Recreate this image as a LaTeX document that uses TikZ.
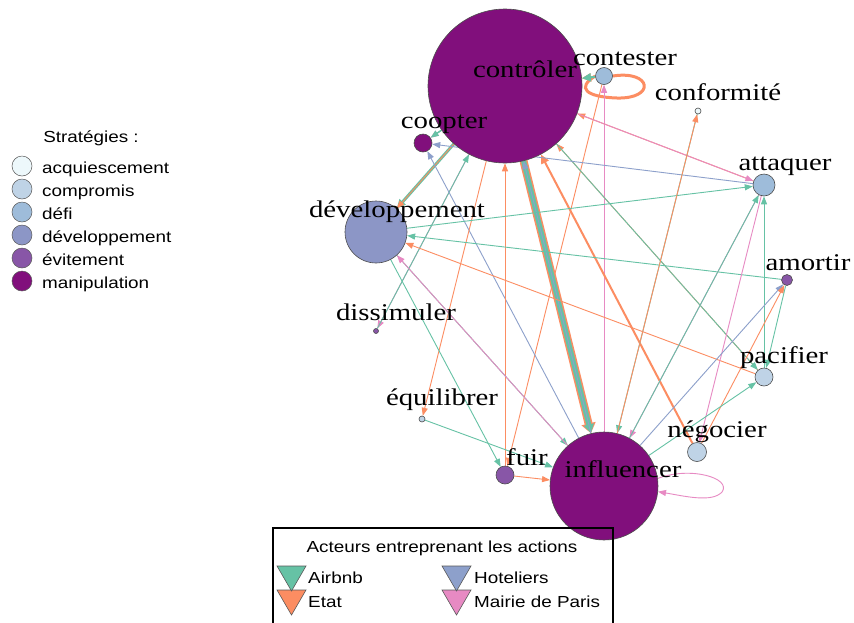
\documentclass[tikz,border=0pt]{standalone}
\usepackage{fontspec}
\usepackage{graphicx}
\setmainfont{Liberation Serif}
\newfontfamily\arialf{Liberation Sans}
\usetikzlibrary{arrows.meta}
\definecolor{airbnb}{HTML}{66C2A5}
\definecolor{etat}{HTML}{FC8D62}
\definecolor{hotel}{HTML}{8DA0CB}
\definecolor{mairie}{HTML}{E78AC3}
\definecolor{acq}{HTML}{EDF8FB}
\definecolor{comp}{HTML}{BFD3E6}
\definecolor{defi}{HTML}{9EBCDA}
\definecolor{devc}{HTML}{8C96C6}
\definecolor{evit}{HTML}{8856A7}
\definecolor{manip}{HTML}{810F7C}
\pgfdeclarelayer{bg}
\pgfsetlayers{bg,main}
\begin{document}
\begin{tikzpicture}[x=1pt,y=-1pt,
  vtx/.style={circle, draw=gray!60!black, line width=0.6pt, inner sep=0pt},
  lbl/.style={anchor=base, inner sep=0pt, font=\fontsize{24}{26}\selectfont},
  leg/.style={inner sep=0pt, font=\arialf\fontsize{16}{18}\selectfont},
  ar/.style={-{Triangle[length=8pt,width=6pt]}},
  ab/.style={draw=airbnb, line width=0.9pt, ar},
  et/.style={draw=etat, line width=0.9pt, ar},
  ho/.style={draw=hotel, line width=0.9pt, ar},
  ma/.style={draw=mairie, line width=0.9pt, ar},
  legcirc/.style={circle, draw=gray!70!black, line width=0.5pt, minimum size=20pt, inner sep=0pt},
  legtri/.style={draw=gray!70!black, line width=0.6pt}
]
\useasboundingbox (0,0) rectangle (854,622);

% vertices
\node[vtx, fill=manip, minimum size=154pt] (C) at (505,86) {};
\node[vtx, fill=defi, minimum size=17pt] (Ct) at (604,76) {};
\node[vtx, fill=acq, minimum size=6pt] (Cf) at (698,111) {};
\node[vtx, fill=manip, minimum size=18pt] (Co) at (423,143) {};
\node[vtx, fill=defi, minimum size=22pt] (A) at (764,185) {};
\node[vtx, fill=devc, minimum size=62pt] (D) at (376,232) {};
\node[vtx, fill=evit, minimum size=11pt] (Am) at (787,280) {};
\node[vtx, fill=evit, minimum size=5pt] (Di) at (376,331) {};
\node[vtx, fill=comp, minimum size=18pt] (P) at (764,377) {};
\node[vtx, fill=comp, minimum size=6pt] (E) at (422,419) {};
\node[vtx, fill=comp, minimum size=19pt] (N) at (697,452) {};
\node[vtx, fill=evit, minimum size=18pt] (F) at (505,475) {};
\node[vtx, fill=manip, minimum size=108pt] (I) at (604,486) {};

\begin{pgfonlayer}{bg}
\fill[white] (0,0) rectangle (854,622);
% loops
\draw[etat, line width=3pt] (Ct.east) .. controls (652,70) and (656,99) .. (617,98) .. controls (586,97) and (576,88) .. (Ct.west);
\draw[ma] (I.8) .. controls (690,466) and (732,478) .. (722,492) .. controls (712,503) and (684,496) .. (I.-6);
% contester
\draw[et, line width=2pt, -{Triangle[length=9pt,width=8pt]}] (Ct) -- (C);
\draw[ab, line width=2pt, -{Triangle[length=9pt,width=8pt]}] (Ct) -- (C);
\draw[ma] (I) -- (Ct);
\draw[et] (Ct) -- (F);
% contrôler - influencer band
\draw[et, line width=8pt, -{Triangle[length=10pt,width=14pt]}] (C) -- (I);
\draw[ab, line width=5pt, -{Triangle[length=9pt,width=10pt]}] (C) -- (I);
\draw[ho] (I) -- (C);
% contrôler others
\draw[et, line width=2pt, -{Triangle[length=9pt,width=8pt]}] (N) -- (C);
\draw[et] (P) -- (C);
\draw[ab] (C) -- (P);
\draw[et] (A) -- (C);
\draw[ma] (C) -- (A);
\draw[ma] (C) -- (Di);
\draw[ab] (Di) -- (C);
\draw[ab, line width=3pt, -{Triangle[length=9pt,width=8pt]}] (C) -- (D);
\draw[et] (C) -- (D);
\draw[ma] (C) -- (Co);
\draw[ab, line width=1.5pt] (C) -- (Co);
\draw[ho] (A) -- (Co);
\draw[ho] (I) -- (Co);
\draw[et] (C) -- (E);
\draw[et] (F) -- (C);
% développement
\draw[ab] (D) -- (A);
\draw[ab] (Am) -- (D);
\draw[et] (P) -- (D);
\draw[ab] (D) -- (I);
\draw[ma] (I) -- (D);
\draw[ab] (D) -- (F);
% others
\draw[ab] (E) -- (I);
\draw[et] (F) -- (I);
\draw[ab] (Cf) -- (I);
\draw[et] (I) -- (Cf);
\draw[ma] (A) -- (I);
\draw[ab] (I) -- (A);
\draw[ma] (A) -- (N);
\draw[ab] (P) -- (A);
\draw[ho] (I) -- (Am);
\draw[et] (N) -- (Am);
\draw[ab] (Am) -- (P);
\draw[ab] (I) -- (P);
\end{pgfonlayer}

% vertex labels
\node[lbl] (lC) at (525,77) {\scalebox{1.2}[1]{contrôler}};
\node[lbl] (lCt) at (625,65) {\scalebox{1.2}[1]{contester}};
\node[lbl] (lCf) at (718,100) {\scalebox{1.2}[1]{conformité}};
\node[lbl] (lCo) at (444,128) {\scalebox{1.2}[1]{coopter}};
\node[lbl] (lA) at (785,170) {\scalebox{1.2}[1]{attaquer}};
\node[lbl] (lD) at (397,217) {\scalebox{1.2}[1]{développement}};
\node[lbl] (lAm) at (808,270) {\scalebox{1.2}[1]{amortir}};
\node[lbl] (lDi) at (396,320) {\scalebox{1.2}[1]{dissimuler}};
\node[lbl] (lP) at (784,363) {\scalebox{1.2}[1]{pacifier}};
\node[lbl] (lE) at (442,405) {\scalebox{1.2}[1]{équilibrer}};
\node[lbl] (lN) at (717,437) {\scalebox{1.2}[1]{négocier}};
\node[lbl] (lF) at (527,465) {\scalebox{1.2}[1]{fuir}};
\node[lbl] (lI) at (623,477) {\scalebox{1.2}[1]{influencer}};

% strategies legend
\node[leg, anchor=base] (st) at (91,142) {\scalebox{1.18}[1]{Stratégies :}};
\node[legcirc, fill=acq] (s1) at (22,166) {};
\node[legcirc, fill=comp] (s2) at (22,189) {};
\node[legcirc, fill=defi] (s3) at (22,212) {};
\node[legcirc, fill=devc] (s4) at (22,235) {};
\node[legcirc, fill=evit] (s5) at (22,258) {};
\node[legcirc, fill=manip] (s6) at (22,281) {};
\node[leg, anchor=base west] (t1) at (42,173) {\scalebox{1.18}[1]{acquiescement}};
\node[leg, anchor=base west] (t2) at (42,196) {\scalebox{1.18}[1]{compromis}};
\node[leg, anchor=base west] (t3) at (42,219) {\scalebox{1.18}[1]{défi}};
\node[leg, anchor=base west] (t4) at (42,242) {\scalebox{1.18}[1]{développement}};
\node[leg, anchor=base west] (t5) at (42,265) {\scalebox{1.18}[1]{évitement}};
\node[leg, anchor=base west] (t6) at (42,288) {\scalebox{1.18}[1]{manipulation}};

% actors legend
\draw[black, line width=1.2pt] (273,528) rectangle (613,640);
\node[leg, anchor=base] (at) at (442,552) {\scalebox{1.18}[1]{Acteurs entreprenant les actions}};
\filldraw[legtri, fill=etat] (277,590) -- (306,590) -- (291.5,615) -- cycle;
\filldraw[legtri, fill=airbnb] (277,566) -- (306,566) -- (291.5,591) -- cycle;
\filldraw[legtri, fill=mairie] (442,590) -- (471,590) -- (456.5,615) -- cycle;
\filldraw[legtri, fill=hotel] (442,566) -- (471,566) -- (456.5,591) -- cycle;
\node[leg, anchor=base west] (a1) at (308,583) {\scalebox{1.18}[1]{Airbnb}};
\node[leg, anchor=base west] (a2) at (308,607) {\scalebox{1.18}[1]{Etat}};
\node[leg, anchor=base west] (a3) at (474,583) {\scalebox{1.18}[1]{Hoteliers}};
\node[leg, anchor=base west] (a4) at (474,607) {\scalebox{1.18}[1]{Mairie de Paris}};
\end{tikzpicture}
\end{document}
